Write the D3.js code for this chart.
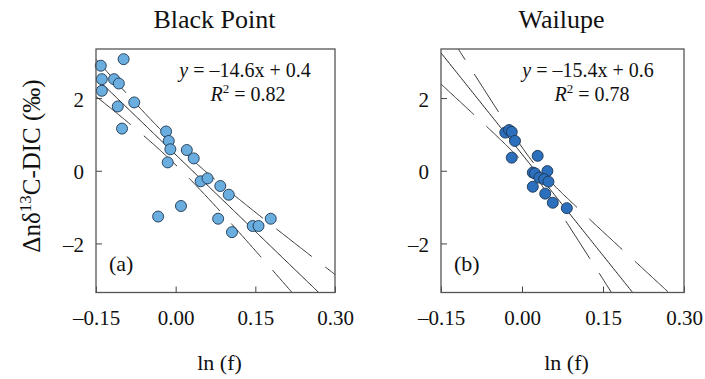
<!DOCTYPE html>
<html><head><meta charset="utf-8">
<script src="https://cdn.jsdelivr.net/npm/d3@7"></script>
<style>
body{margin:0;background:#fff}
svg{display:block}
text{font-family:"Liberation Serif","Times New Roman",serif;fill:#111}
</style>
</head><body>
<svg id="chart" width="705" height="379"></svg>
<script>
// ---------- data ----------
const xTicks = [-0.15, 0, 0.15, 0.30];
const yTicks = [-2, 0, 2];
const panelTitles = ["Black Point", "Wailupe"];
const panelLetters = ["(a)", "(b)"];
const eqSlopes = [-14.6, -15.4];
const eqIntercepts = [0.4, 0.6];
const r2Values = [0.82, 0.78];

const blackPointX = [-0.141, -0.098, -0.139, -0.116, -0.107, -0.139, -0.078, -0.109, -0.101, -0.018, -0.013, -0.010, -0.015, 0.021, 0.034, 0.047, 0.060, 0.084, 0.100, -0.033, 0.010, 0.080, 0.106, 0.145, 0.156, 0.179];
const blackPointY = [2.89, 3.07, 2.52, 2.52, 2.40, 2.20, 1.88, 1.77, 1.16, 1.08, 0.82, 0.59, 0.23, 0.57, 0.34, -0.29, -0.21, -0.42, -0.66, -1.26, -0.97, -1.32, -1.69, -1.52, -1.52, -1.32];
const wailupeX = [-0.031, -0.024, -0.019, -0.013, -0.019, 0.029, 0.020, 0.024, 0.047, 0.032, 0.041, 0.049, 0.020, 0.043, 0.057, 0.083];
const wailupeY = [1.05, 1.12, 1.07, 0.82, 0.36, 0.41, -0.05, -0.07, -0.01, -0.19, -0.23, -0.30, -0.44, -0.63, -0.88, -1.03];

// ---------- layout ----------
const svg = d3.select("#chart");
const plotTop = 49, plotBottom = 292.5;
const panels = [
  {x0: 96, x1: 335, xs: blackPointX, ys: blackPointY, fill: "#6aaee0", eqCx: 245, r2Cx: 248},
  {x0: 441, x1: 684, xs: wailupeX, ys: wailupeY, fill: "#2c70bd", eqCx: 588, r2Cx: 592}
];

function fmtMinus(v, d) { const s = Math.abs(v).toFixed(d); return (v < 0 ? "\u2013" : "") + s; }

function tQuantile(nu) {
  const z = 1.959964, z3 = z**3, z5 = z**5, z7 = z**7, z9 = z**9;
  return z + (z3 + z) / (4 * nu) + (5*z5 + 16*z3 + 3*z) / (96 * nu*nu)
    + (3*z7 + 19*z5 + 17*z3 - 15*z) / (384 * nu**3)
    + (79*z9 + 776*z7 + 1482*z5 - 1920*z3 - 945*z) / (92160 * nu**4);
}

function fit(xs, ys) {
  const n = xs.length, mx = d3.mean(xs), my = d3.mean(ys);
  let sxx = 0, sxy = 0;
  xs.forEach((x, i) => { sxx += (x - mx) ** 2; sxy += (x - mx) * (ys[i] - my); });
  const b = sxy / sxx, a = my - b * mx;
  let sse = 0; xs.forEach((x, i) => { sse += (ys[i] - a - b * x) ** 2; });
  const s = Math.sqrt(sse / (n - 2)), t = tQuantile(n - 2);
  return {a, b, ci: x => t * s * Math.sqrt(1 / n + (x - mx) ** 2 / sxx)};
}

svg.append("defs").selectAll("clipPath").data(panels).join("clipPath")
  .attr("id", (d, i) => "clip" + i)
  .append("rect").attr("x", d => d.x0).attr("y", plotTop).attr("width", d => d.x1 - d.x0).attr("height", plotBottom - plotTop);

panels.forEach((p, i) => {
  const x = d3.scaleLinear().domain([-0.15, 0.30]).range([p.x0, p.x1]);
  const y = d3.scaleLinear().domain([-3.35, 3.35]).range([plotBottom, plotTop]);
  const g = svg.append("g");

  // axes
  const xa = g.append("g").attr("transform", `translate(0,${plotBottom})`)
    .call(d3.axisBottom(x).tickValues(xTicks).tickSize(-6).tickPadding(18).tickFormat(v => fmtMinus(v, 2)));
  const ya = g.append("g").attr("transform", `translate(${p.x0},0)`)
    .call(d3.axisLeft(y).tickValues(yTicks).tickSize(-6).tickPadding(12).tickFormat(v => fmtMinus(v, 0)));
  [xa, ya].forEach(a => {
    a.attr("font-size", 21).attr("font-family", "Liberation Serif");
    a.select(".domain").remove();
    a.selectAll("line").attr("stroke", "#444").attr("stroke-width", 1);
    a.selectAll("text").attr("fill", "#111");
  });
  ya.selectAll("text").attr("dy", "0.38em");

  // regression + confidence bands
  const f = fit(p.xs, p.ys);
  const grid = d3.range(0, 201).map(k => -0.15 + k * 0.45 / 200);
  const lg = g.append("g").attr("clip-path", `url(#clip${i})`).attr("fill", "none");
  const line = d3.line().x(d => x(d[0])).y(d => y(d[1]));
  lg.append("path").attr("d", line(grid.map(v => [v, f.a + f.b * v])))
    .attr("stroke", "#222").attr("stroke-width", 1);
  [1, -1].forEach(sg => {
    lg.append("path").attr("d", line(grid.map(v => [v, f.a + f.b * v + sg * f.ci(v)])))
      .attr("stroke", "#333").attr("stroke-width", 1).attr("stroke-dasharray", "45,17");
  });

  // points
  g.append("g").selectAll("circle").data(p.xs.map((v, k) => [v, p.ys[k]])).join("circle")
    .attr("cx", d => x(d[0])).attr("cy", d => y(d[1])).attr("r", 5.5)
    .attr("fill", p.fill).attr("stroke", "#1d3550").attr("stroke-width", 0.9);

  // frame
  g.append("rect").attr("x", p.x0).attr("y", plotTop).attr("width", p.x1 - p.x0).attr("height", plotBottom - plotTop)
    .attr("fill", "none").attr("stroke", "#555").attr("stroke-width", 1.3);

  // texts
  svg.append("text").attr("x", (p.x0 + p.x1) / 2 - 1).attr("y", 28).attr("text-anchor", "middle")
    .attr("font-size", 26).text(panelTitles[i]);
  svg.append("text").attr("x", (p.x0 + p.x1) / 2 + 4).attr("y", 370).attr("text-anchor", "middle")
    .attr("font-size", 22).text("ln (f)");

  const eq = svg.append("text").attr("x", p.eqCx).attr("y", 77).attr("text-anchor", "middle").attr("font-size", 20);
  eq.append("tspan").attr("font-style", "italic").text("y");
  eq.append("tspan").text(` = ${fmtMinus(eqSlopes[i], 1)}x + ${eqIntercepts[i].toFixed(1)}`);

  const r2 = svg.append("text").attr("x", p.r2Cx).attr("y", 101).attr("text-anchor", "middle").attr("font-size", 20);
  r2.append("tspan").attr("font-style", "italic").text("R");
  r2.append("tspan").attr("font-size", 13).attr("dy", -8).text("2");
  r2.append("tspan").attr("dy", 8).text(` = ${r2Values[i].toFixed(2)}`);

  svg.append("text").attr("x", p.x0 + 13).attr("y", 271).attr("font-size", 22).text(panelLetters[i]);
});

// y-axis title
const yt = svg.append("text").attr("transform", "translate(40,166) rotate(-90)")
  .attr("text-anchor", "middle").attr("font-size", 25);
yt.append("tspan").text("\u0394n\u03b4");
yt.append("tspan").attr("font-size", 17).attr("dy", -9).text("13");
yt.append("tspan").attr("dy", 9).text("C-DIC (\u2030)");
</script>
</body></html>
